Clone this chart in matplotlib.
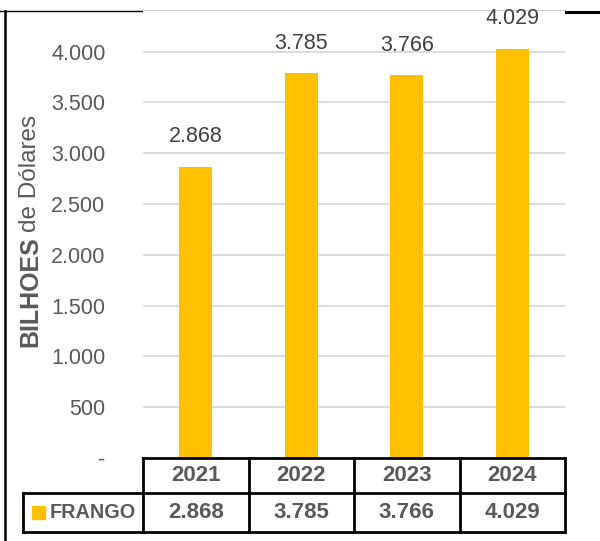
# grafico exportacao frango - bilhoes de dolares
import matplotlib
matplotlib.use("Agg")
import matplotlib.pyplot as plt
import matplotlib.transforms as mtransforms
from matplotlib.patches import Rectangle

anos = ["2021", "2022", "2023", "2024"]
frango = [2868, 3785, 3766, 4029]
serie = "FRANGO"
yticks = [0, 500, 1000, 1500, 2000, 2500, 3000, 3500, 4000]
ytick_labels = ["-", "500", "1.000", "1.500", "2.000", "2.500", "3.000", "3.500", "4.000"]

def fmt(v):
    return f"{v:,}".replace(",", ".")

plt.rcParams['font.family'] = ['Liberation Sans', 'DejaVu Sans']

W, H = 600, 541
fig = plt.figure(figsize=(W / 100, H / 100), dpi=100)

# chart area in pixels
L, R, B, T = 143, 565, 458, 11
ax = fig.add_axes([L / W, (H - B) / H, (R - L) / W, (B - T) / H])

x = list(range(len(anos)))
ax.bar(x, frango, width=0.31, color="#FFC000", zorder=3)
ax.set_xlim(-0.5, len(anos) - 0.5)
ax.set_ylim(0, 4400)
ax.set_yticks(yticks)
ax.set_yticklabels(ytick_labels, fontsize=15.5, color="#595959")
ax.tick_params(axis="y", length=0, pad=27)
ax.set_xticks([])
for s in ax.spines.values():
    s.set_visible(False)
for v in yticks[1:]:
    ax.axhline(v, color="#d9d9d9", lw=1.3, zorder=1)

# data labels
for i, v in enumerate(frango):
    ax.annotate(fmt(v), (i, v), xytext=(0, 14), textcoords="offset points",
                ha="center", va="bottom", fontsize=15.5, color="#404040")

# y label, bold + regular
t1 = fig.text(30 / W, (H - 347) / H, "BILHOES", rotation=90, ha="center", va="bottom",
              fontsize=18, fontweight="bold", color="#595959")
ax.annotate("de Dólares", xy=(0.5, 1), xycoords=t1, xytext=(0, 3), textcoords="offset points",
            rotation=90, ha="center", va="bottom", fontsize=17.5, color="#595959",
            annotation_clip=False)

# data table under the chart
tr = mtransforms.blended_transform_factory(ax.transData, ax.transAxes)
h = B - T
cw = (R - L) / len(anos)
r1 = -(493 - B) / h
r2 = -(532 - B) / h
left_x = -0.5 - (L - 23) / cw
lw = 2
kw = dict(transform=tr, clip_on=False, color="black", lw=lw, zorder=5)
n = len(anos)
ax.plot([-0.5, n - 0.5], [0, 0], **kw)
ax.plot([left_x, n - 0.5], [r1, r1], **kw)
ax.plot([left_x, n - 0.5], [r2, r2], **kw)
ax.plot([left_x, left_x], [r1, r2], **kw)
for i in range(n + 1):
    ax.plot([i - 0.5, i - 0.5], [0, r2], **kw)
for i, a in enumerate(anos):
    ax.text(i, r1 / 2, a, transform=tr, ha="center", va="center", fontsize=16,
            fontweight="bold", color="#595959")
    ax.text(i, (r1 + r2) / 2, fmt(frango[i]), transform=tr, ha="center", va="center",
            fontsize=16, fontweight="bold", color="#595959")
ax.text(-0.5 - (L - 50) / cw, (r1 + r2) / 2, serie, transform=tr, ha="left", va="center",
        fontsize=14.3, fontweight="bold", color="#595959")
ax.add_patch(Rectangle((-0.5 - (L - 32) / cw, (r1 + r2) / 2 - 6.5 / h), 13 / cw, 13 / h,
                       transform=tr, color="#FFC000", clip_on=False))

# outer frame lines
fr = fig.add_axes([0, 0, 1, 1], zorder=-1)
fr.set_xlim(0, W)
fr.set_ylim(H, 0)
fr.axis("off")
fr.plot([0, 565], [11, 11], color="black", lw=1)
fr.plot([565, 600], [11.5, 11.5], color="black", lw=2.2)
fr.plot([4.5, 4.5], [11, 541], color="black", lw=1.8)

fig.savefig("out.png", dpi=100)
